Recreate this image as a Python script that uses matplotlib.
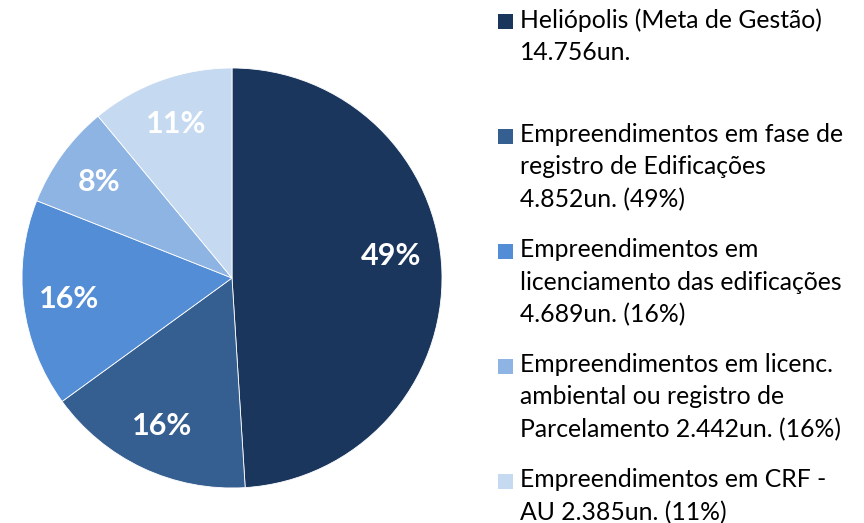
import matplotlib.pyplot as plt
from matplotlib.patches import Rectangle

plt.rcParams['font.family'] = ['Lato', 'DejaVu Sans']

shares = [49, 16, 16, 8, 11]
colors = ['#1a365d', '#365f91', '#538dd5', '#8db4e2', '#c5d9f1']
legend_labels = [
    'Heliópolis (Meta de Gestão)\n14.756un.',
    'Empreendimentos em fase de\nregistro de Edificações\n4.852un. (49%)',
    'Empreendimentos em\nlicenciamento das edificações\n4.689un. (16%)',
    'Empreendimentos em licenc.\nambiental ou registro de\nParcelamento 2.442un. (16%)',
    'Empreendimentos em CRF -\nAU 2.385un. (11%)',
]

fig = plt.figure(figsize=(8.64, 5.23), dpi=100)
W, H = 864, 523

# pie: centre (232, 278) px from top, radius 210 px
cx, cy, r = 232, 278, 210
ax = fig.add_axes([(cx - r) / W, (H - cy - r) / H, 2 * r / W, 2 * r / H])
wedges, texts, autotexts = ax.pie(
    shares, colors=colors, startangle=90, counterclock=False,
    autopct='%d%%', pctdistance=0.78, radius=1,
    wedgeprops=dict(edgecolor='white', linewidth=0.6))
for t in autotexts:
    t.set_color('white')
    t.set_fontsize(22)
    t.set_fontweight('bold')
# the big slice label sits a little higher in the original
x0, y0 = autotexts[0].get_position()
autotexts[0].set_position((x0 - 0.02, y0 + 0.08))
ax.set_xlim(-1, 1)
ax.set_ylim(-1, 1)
ax.set_aspect('equal')
ax.axis('off')

# legend drawn by hand to keep the fixed entry pitch
x_box, x_text = 498, 520
top0, pitch, box = 14, 115, 15
for i, (lab, col) in enumerate(zip(legend_labels, colors)):
    top = top0 + i * pitch
    fig.patches.append(Rectangle((x_box / W, 1 - (top + box) / H), box / W, box / H,
                                 transform=fig.transFigure, facecolor=col,
                                 edgecolor='none'))
    fig.text(x_text / W, 1 - (top - 6) / H, lab, fontsize=17.8, color='black',
             va='top', ha='left', linespacing=1.5)

fig.savefig('out.png', dpi=100)
